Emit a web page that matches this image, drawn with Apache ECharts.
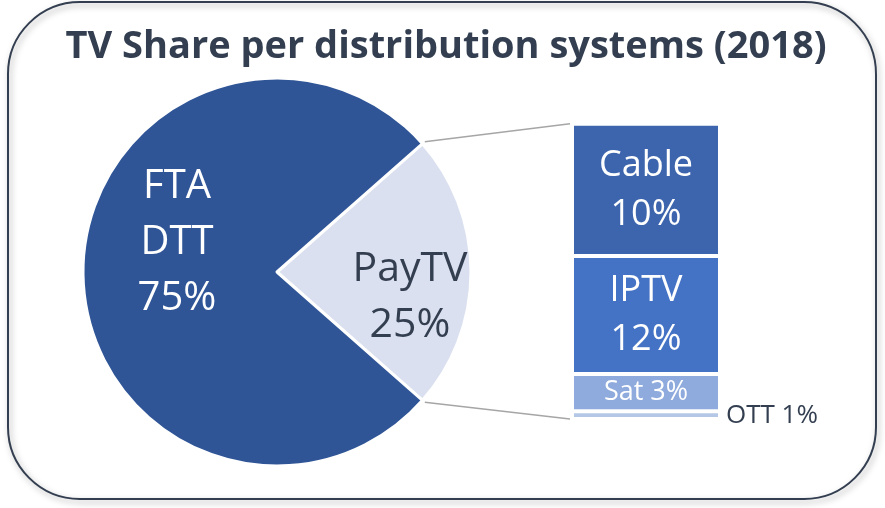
<!DOCTYPE html>
<html>
<head>
<meta charset="utf-8">
<script src="https://cdn.jsdelivr.net/npm/echarts@6/dist/echarts.min.js"></script>
<style>
  html, body { margin: 0; padding: 0; background: #fff; }
  #chart { width: 885px; height: 508px; }
</style>
</head>
<body>
<div id="chart"></div>
<script>
// pie: PayTV vs free-to-air
const pieNames = ['PayTV', 'FTA\nDTT'];
const pieValues = [23, 77];
const pieLabels = ['25%', '75%'];

// breakdown of PayTV (top to bottom)
const barNames = ['Cable', 'IPTV', 'Sat', 'OTT'];
const barValues = [10.3, 9.2, 2.9, 0.6];
const barLabels = ['10%', '12%', '3%', '1%'];

const FONT = '"Open Sans", sans-serif';
const DARK = '#333f50';

const pieCenter = [277, 272];
const pieRadius = 194;
const pieTotal = pieValues.reduce((a, b) => a + b, 0);
const halfAngle = pieValues[0] / pieTotal * 180;

const barGrid = { left: 572, top: 123.7, width: 148, height: 295.3 };
const barTotal = barValues.reduce((a, b) => a + b, 0);

const chart = echarts.init(document.getElementById('chart'));

// connector lines from the PayTV slice edges to the bar
const rad = halfAngle * Math.PI / 180;
const edgeR = pieRadius + 3;
const upperStart = [pieCenter[0] + edgeR * Math.cos(rad), pieCenter[1] - edgeR * Math.sin(rad)];
const lowerStart = [pieCenter[0] + edgeR * Math.cos(rad), pieCenter[1] + edgeR * Math.sin(rad)];
const upperEnd = [barGrid.left - 2, barGrid.top];
const lowerEnd = [barGrid.left - 2, barGrid.top + barGrid.height];

const barColors = ['#3d65ad', '#4472c4', '#8faadc', '#b4c7e7'];

// stacks grow upward, so push series bottom first
const barSeries = [];
for (let i = barNames.length - 1; i >= 0; i--) {
  let label;
  if (i < 2) {
    label = {
      show: true, position: 'inside', color: '#fff', fontFamily: FONT,
      fontSize: 36, lineHeight: 49,
      formatter: barNames[i] + '\n' + barLabels[i]
    };
  } else if (i === 2) {
    label = {
      show: true, position: 'inside', color: '#fff', fontFamily: FONT,
      fontSize: 27, formatter: barNames[i] + ' ' + barLabels[i]
    };
  } else {
    label = {
      show: true, position: 'right', distance: 6, color: DARK, fontFamily: FONT,
      fontSize: 26, formatter: barNames[i] + ' ' + barLabels[i]
    };
  }
  barSeries.push({
    type: 'bar',
    name: barNames[i],
    stack: 'paytv',
    barWidth: '100%',
    data: [barValues[i]],
    itemStyle: { color: barColors[i], borderColor: '#fff', borderWidth: 2 },
    label: label,
    silent: true
  });
}

chart.setOption({
  animation: false,
  title: {
    text: 'TV Share per distribution systems (2018)',
    left: 441,
    top: 23,
    textAlign: 'center',
    textStyle: { fontFamily: FONT, fontWeight: 'bold', fontSize: 38, color: DARK }
  },
  graphic: [
    {
      type: 'rect',
      shape: { x: 8, y: 2, width: 868, height: 497, r: 72 },
      style: {
        fill: 'transparent', stroke: DARK, lineWidth: 2,
        shadowBlur: 6, shadowOffsetX: 2, shadowOffsetY: 3, shadowColor: 'rgba(0,0,0,0.35)'
      },
      z: -1,
      silent: true
    },
    {
      type: 'line',
      shape: { x1: upperStart[0], y1: upperStart[1], x2: upperEnd[0], y2: upperEnd[1] },
      style: { stroke: '#a6a6a6', lineWidth: 1.5 }
    },
    {
      type: 'line',
      shape: { x1: lowerStart[0], y1: lowerStart[1], x2: lowerEnd[0], y2: lowerEnd[1] },
      style: { stroke: '#a6a6a6', lineWidth: 1.5 }
    }
  ],
  grid: Object.assign({}, barGrid),
  xAxis: { type: 'category', data: ['PayTV'], show: false },
  yAxis: { type: 'value', min: 0, max: barTotal, show: false },
  series: [
    {
      type: 'pie',
      center: pieCenter,
      radius: pieRadius,
      startAngle: halfAngle,
      clockwise: true,
      silent: true,
      itemStyle: { borderColor: '#fff', borderWidth: 3 },
      label: {
        show: true, position: 'inner', fontFamily: FONT, fontSize: 40, lineHeight: 56
      },
      labelLine: { show: false },
      labelLayout: function (p) {
        return p.dataIndex === 0 ? { dx: 33, dy: 25 } : { dx: 0, dy: -29 };
      },
      data: pieNames.map((n, i) => ({
        name: n,
        value: pieValues[i],
        itemStyle: { color: i === 0 ? '#dae0ef' : '#2f5597' },
        label: {
          color: i === 0 ? DARK : '#fff',
          fontSize: i === 0 ? 41 : 40,
          formatter: n + '\n' + pieLabels[i]
        }
      }))
    }
  ].concat(barSeries)
});

window.addEventListener('resize', () => chart.resize());
</script>
</body>
</html>
